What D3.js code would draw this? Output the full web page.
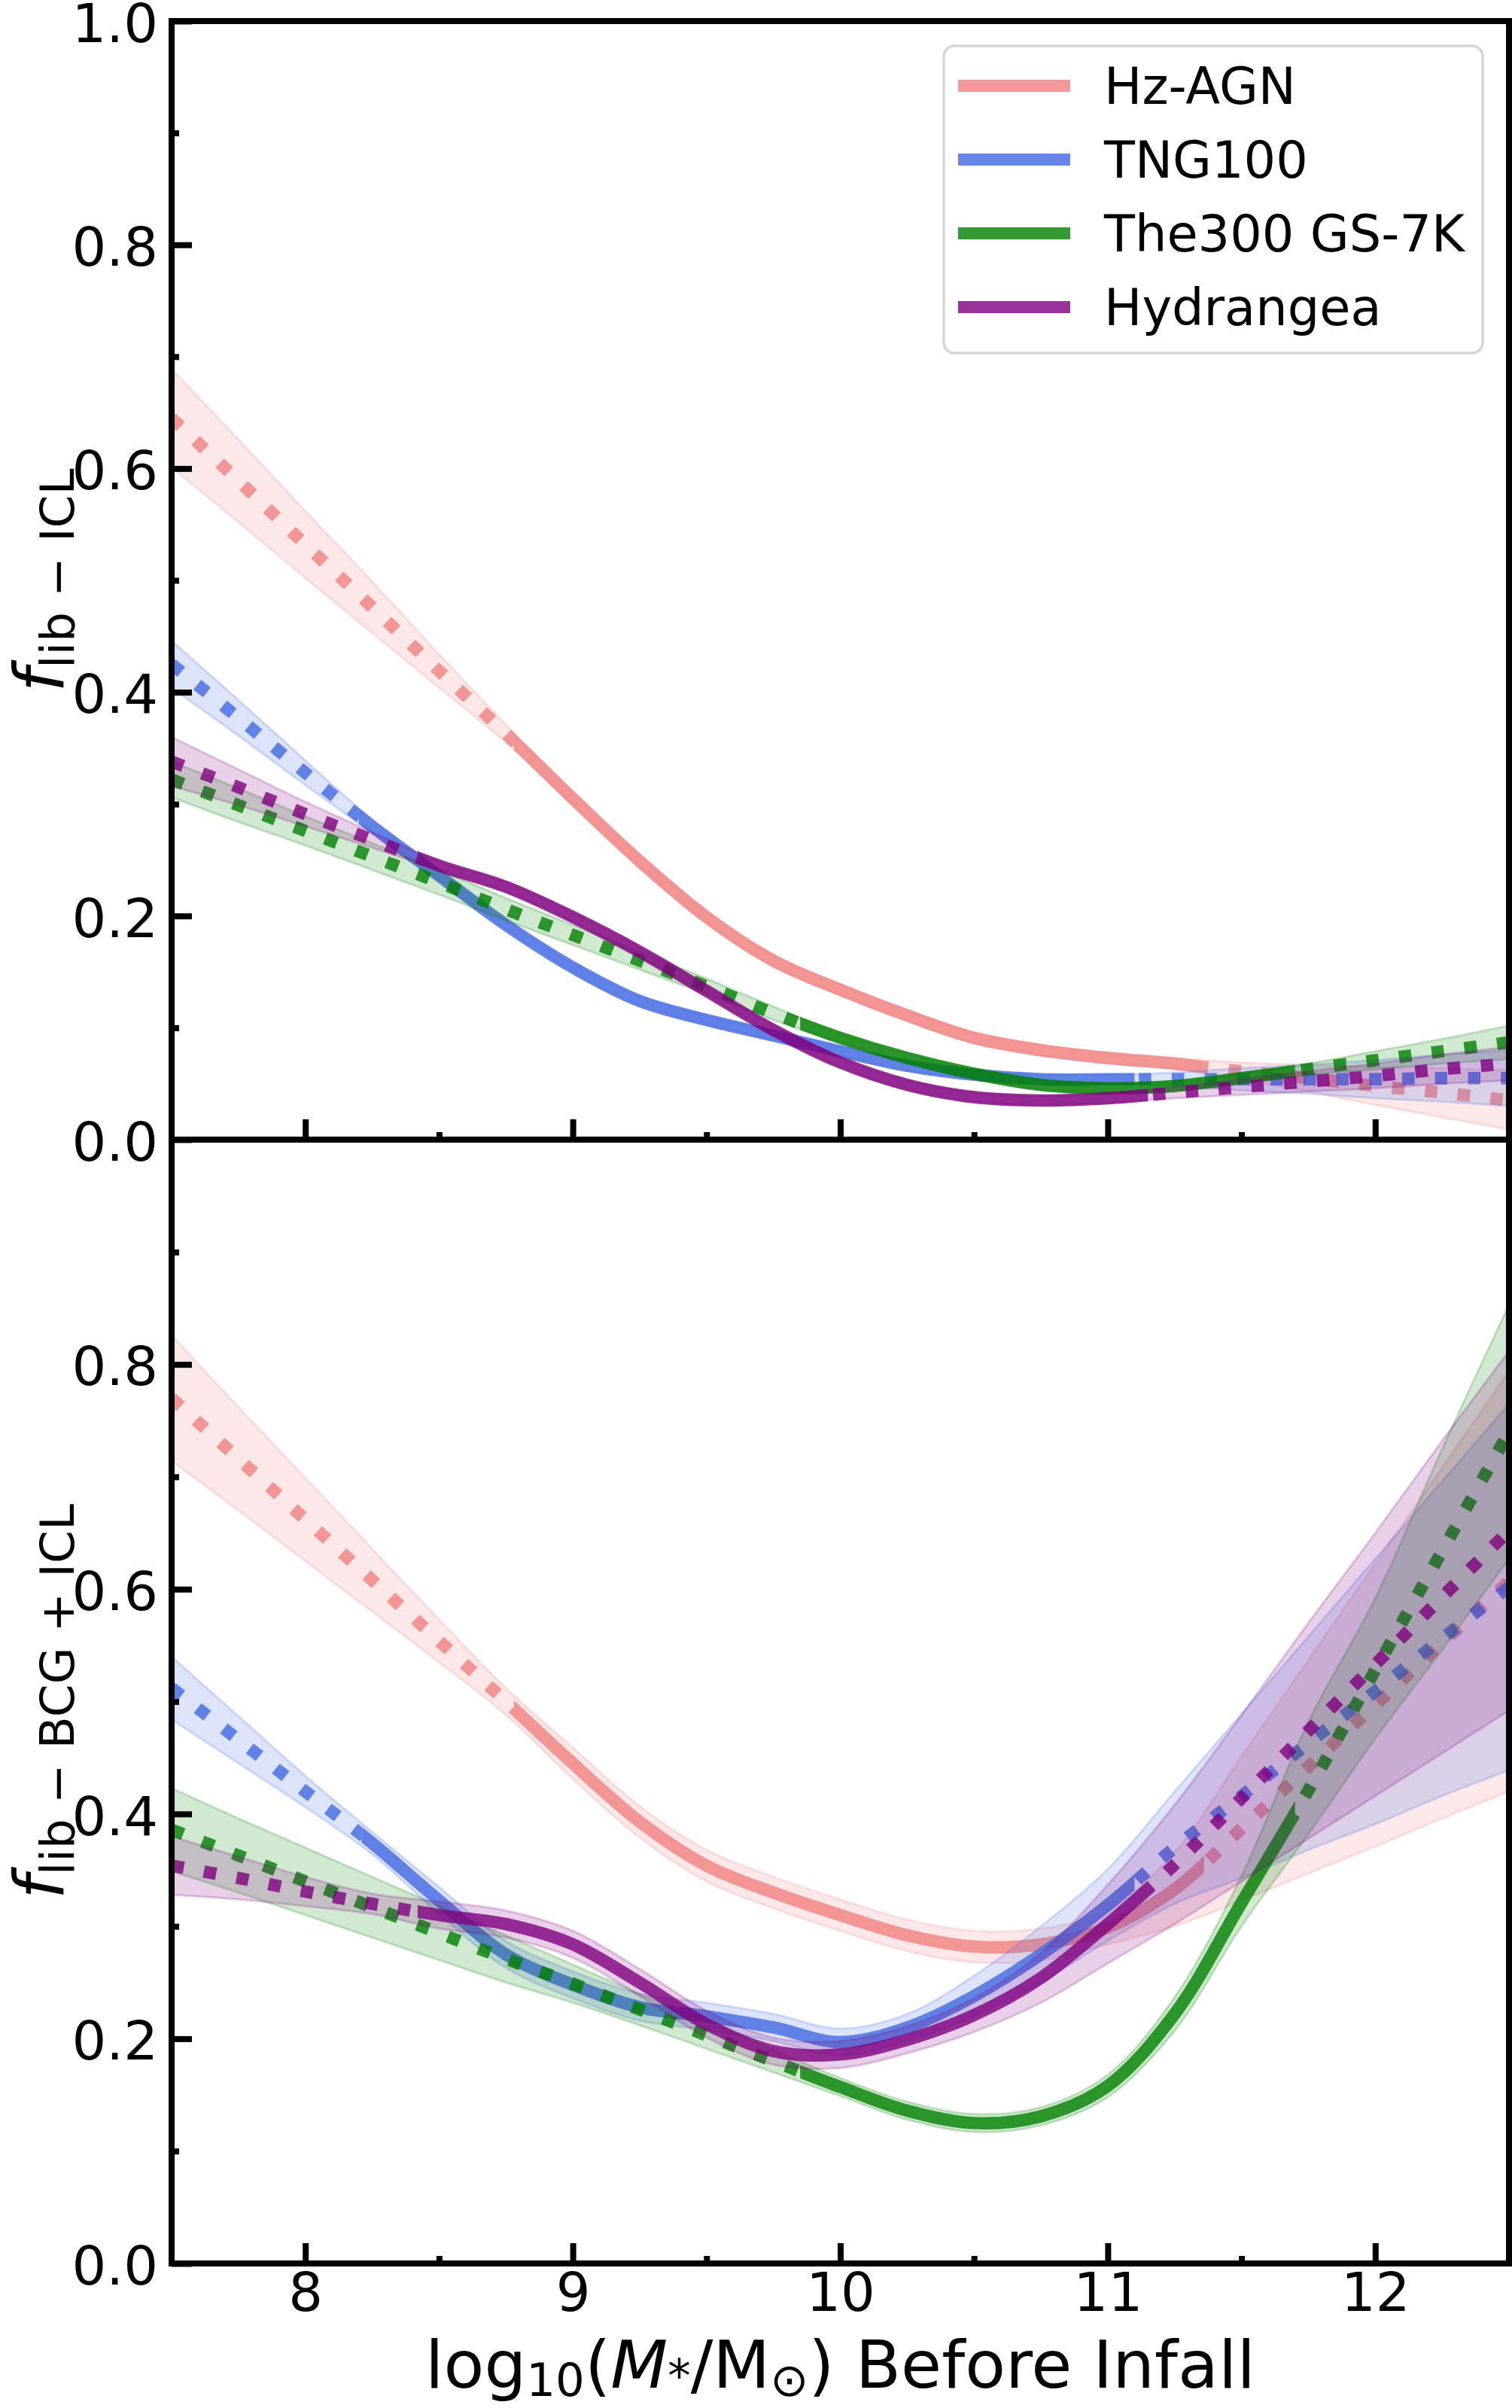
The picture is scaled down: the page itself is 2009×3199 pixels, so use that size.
<!DOCTYPE html>
<html>
<head>
<meta charset="utf-8">
<script src="https://cdn.jsdelivr.net/npm/d3@7"></script>
<style>
  body { margin: 0; background: #fff; }
  svg { display: block; font-family: "DejaVu Sans", sans-serif; }
  .tick text { font-size: 72px; fill: #000; font-family: "DejaVu Sans", sans-serif; }
  .tick line { stroke: #000; stroke-width: 8; }
</style>
</head>
<body>
<div id="chart"></div>
<script>
(function () {

  // shared mass grid, log10(M*/Msun) before infall
  const massGrid = [7.5, 7.75, 8.0, 8.25, 8.5, 8.75, 9.0, 9.25, 9.5, 9.75, 10.0,
    10.25, 10.5, 10.75, 11.0, 11.25, 11.5, 11.75, 12.0, 12.25, 12.5];

  const seriesNames = ["Hz-AGN", "TNG100", "The300 GS-7K", "Hydrangea"];
  const seriesColors = ["lightcoral", "royalblue", "green", "purple"];

  // top panel: f_lib-ICL
  const hzTopY  = [0.645, 0.589, 0.532, 0.476, 0.419, 0.363, 0.305, 0.249, 0.199, 0.160, 0.134, 0.111, 0.091, 0.080, 0.073, 0.068, 0.061, 0.055, 0.048, 0.042, 0.035];
  const hzTopLo = [0.601, 0.552, 0.502, 0.453, 0.404, 0.355, 0.300, 0.244, 0.194, 0.155, 0.129, 0.106, 0.086, 0.075, 0.068, 0.063, 0.053, 0.043, 0.031, 0.020, 0.009];
  const hzTopHi = [0.689, 0.626, 0.562, 0.499, 0.434, 0.371, 0.310, 0.254, 0.204, 0.165, 0.139, 0.116, 0.096, 0.085, 0.078, 0.073, 0.069, 0.067, 0.065, 0.064, 0.062];

  const tngTopY  = [0.425, 0.377, 0.328, 0.280, 0.236, 0.192, 0.154, 0.124, 0.107, 0.093, 0.079, 0.066, 0.058, 0.054, 0.054, 0.054, 0.054, 0.054, 0.054, 0.055, 0.055];
  const tngTopLo = [0.404, 0.361, 0.317, 0.274, 0.232, 0.188, 0.150, 0.120, 0.103, 0.089, 0.075, 0.062, 0.054, 0.050, 0.050, 0.048, 0.044, 0.041, 0.037, 0.034, 0.030];
  const tngTopHi = [0.446, 0.393, 0.339, 0.286, 0.240, 0.196, 0.158, 0.128, 0.111, 0.097, 0.083, 0.070, 0.062, 0.058, 0.058, 0.060, 0.064, 0.067, 0.071, 0.076, 0.080];

  const gsTopY  = [0.322, 0.299, 0.276, 0.253, 0.230, 0.206, 0.183, 0.160, 0.137, 0.113, 0.091, 0.073, 0.059, 0.049, 0.046, 0.048, 0.055, 0.063, 0.071, 0.079, 0.087];
  const gsTopLo = [0.306, 0.284, 0.263, 0.241, 0.219, 0.196, 0.174, 0.152, 0.130, 0.107, 0.087, 0.069, 0.055, 0.045, 0.042, 0.044, 0.051, 0.058, 0.063, 0.068, 0.072];
  const gsTopHi = [0.338, 0.314, 0.289, 0.265, 0.241, 0.216, 0.192, 0.168, 0.144, 0.119, 0.095, 0.077, 0.063, 0.053, 0.050, 0.052, 0.059, 0.068, 0.079, 0.090, 0.102];

  const hydTopY  = [0.338, 0.315, 0.291, 0.268, 0.245, 0.226, 0.199, 0.168, 0.133, 0.098, 0.069, 0.049, 0.038, 0.035, 0.037, 0.042, 0.047, 0.052, 0.057, 0.063, 0.068];
  const hydTopLo = [0.316, 0.299, 0.280, 0.261, 0.241, 0.222, 0.195, 0.164, 0.129, 0.094, 0.065, 0.045, 0.034, 0.031, 0.033, 0.037, 0.040, 0.043, 0.046, 0.050, 0.053];
  const hydTopHi = [0.360, 0.331, 0.302, 0.275, 0.249, 0.230, 0.203, 0.172, 0.137, 0.102, 0.073, 0.053, 0.042, 0.039, 0.041, 0.047, 0.054, 0.061, 0.068, 0.076, 0.083];

  // bottom panel: f_lib-BCG+ICL
  const hzBotY  = [0.770, 0.716, 0.662, 0.608, 0.554, 0.500, 0.445, 0.393, 0.354, 0.330, 0.310, 0.292, 0.282, 0.284, 0.299, 0.333, 0.387, 0.442, 0.497, 0.552, 0.607];
  const hzBotLo = [0.714, 0.670, 0.625, 0.580, 0.535, 0.488, 0.431, 0.379, 0.340, 0.316, 0.296, 0.278, 0.268, 0.270, 0.284, 0.300, 0.323, 0.347, 0.371, 0.396, 0.420];
  const hzBotHi = [0.826, 0.762, 0.699, 0.636, 0.573, 0.512, 0.459, 0.407, 0.368, 0.344, 0.324, 0.306, 0.296, 0.298, 0.314, 0.366, 0.451, 0.537, 0.623, 0.708, 0.794];

  const tngBotY  = [0.512, 0.466, 0.420, 0.374, 0.323, 0.275, 0.248, 0.228, 0.220, 0.210, 0.197, 0.210, 0.238, 0.275, 0.319, 0.370, 0.416, 0.463, 0.509, 0.556, 0.602];
  const tngBotLo = [0.484, 0.445, 0.406, 0.364, 0.311, 0.263, 0.236, 0.216, 0.208, 0.198, 0.185, 0.198, 0.220, 0.250, 0.287, 0.320, 0.343, 0.368, 0.391, 0.416, 0.439];
  const tngBotHi = [0.540, 0.487, 0.434, 0.384, 0.335, 0.287, 0.260, 0.240, 0.232, 0.222, 0.209, 0.222, 0.256, 0.300, 0.351, 0.420, 0.489, 0.558, 0.627, 0.696, 0.765];

  const gsBotY  = [0.386, 0.363, 0.340, 0.317, 0.294, 0.271, 0.249, 0.226, 0.203, 0.180, 0.157, 0.136, 0.125, 0.131, 0.158, 0.222, 0.321, 0.421, 0.528, 0.634, 0.740];
  const gsBotLo = [0.349, 0.330, 0.310, 0.290, 0.270, 0.250, 0.232, 0.212, 0.191, 0.170, 0.149, 0.128, 0.117, 0.123, 0.148, 0.207, 0.300, 0.382, 0.467, 0.546, 0.627];
  const gsBotHi = [0.423, 0.396, 0.370, 0.344, 0.318, 0.292, 0.266, 0.240, 0.215, 0.190, 0.165, 0.144, 0.133, 0.139, 0.168, 0.237, 0.345, 0.482, 0.592, 0.725, 0.853];

  const hydBotY  = [0.354, 0.343, 0.331, 0.320, 0.310, 0.302, 0.284, 0.250, 0.213, 0.189, 0.186, 0.199, 0.221, 0.254, 0.302, 0.355, 0.414, 0.474, 0.533, 0.593, 0.652];
  const hydBotLo = [0.328, 0.324, 0.318, 0.311, 0.298, 0.290, 0.272, 0.238, 0.201, 0.177, 0.174, 0.187, 0.206, 0.232, 0.267, 0.302, 0.340, 0.378, 0.416, 0.454, 0.492];
  const hydBotHi = [0.380, 0.362, 0.344, 0.329, 0.322, 0.314, 0.296, 0.262, 0.225, 0.201, 0.198, 0.211, 0.236, 0.276, 0.337, 0.408, 0.488, 0.570, 0.650, 0.732, 0.812];

  // mass range where each curve is drawn solid (dotted outside)
  const topSolid = [[8.78, 11.36], [8.2, 11.1], [9.85, 11.7], [8.42, 11.15]];
  const botSolid = [[8.78, 11.36], [8.21, 11.1], [9.85, 11.7], [8.42, 11.15]];

  // ticks
  const xMajor = [8, 9, 10, 11, 12];
  const xMinor = [8.5, 9.5, 10.5, 11.5];
  const yMajorTop = [0, 0.2, 0.4, 0.6, 0.8, 1.0];
  const yMajorBot = [0, 0.2, 0.4, 0.6, 0.8];
  const yMinor = [0.1, 0.3, 0.5, 0.7, 0.9];


  // chart settings
  const svg_width = 2009;
  const svg_height = 3199;
  const margin = { left: 228, right: 4 };
  const width = svg_width - margin.left - margin.right;
  const lineWidth = 16.5;

  const x = d3.scaleLinear()
    .domain([7.5, 12.5])
    .range([0, width]);

  const svg = d3.select("#chart").append("svg")
    .attr("width", svg_width)
    .attr("height", svg_height);

  const panels = [
    {
      top: 28, height: 1486, solid: topSolid, yMajor: yMajorTop, xLabels: false,
      label: "lib \u2212 ICL",
      series: [
        { y: hzTopY, lo: hzTopLo, hi: hzTopHi },
        { y: tngTopY, lo: tngTopLo, hi: tngTopHi },
        { y: gsTopY, lo: gsTopLo, hi: gsTopHi },
        { y: hydTopY, lo: hydTopLo, hi: hydTopHi }
      ]
    },
    {
      top: 1514, height: 1493, solid: botSolid, yMajor: yMajorBot, xLabels: true,
      label: "lib \u2212 BCG + ICL",
      series: [
        { y: hzBotY, lo: hzBotLo, hi: hzBotHi },
        { y: tngBotY, lo: tngBotLo, hi: tngBotHi },
        { y: gsBotY, lo: gsBotLo, hi: gsBotHi },
        { y: hydBotY, lo: hydBotLo, hi: hydBotHi }
      ]
    }
  ];

  panels.forEach(function (p, pi) {
    const y = d3.scaleLinear()
      .domain([0, 1])
      .range([p.height, 0]);

    const g = svg.append("g")
      .attr("transform", "translate(" + margin.left + "," + p.top + ")");

    const defs = g.append("defs");
    defs.append("clipPath").attr("id", "plot" + pi)
      .append("rect").attr("width", width).attr("height", p.height);

    const plot = g.append("g").attr("clip-path", "url(#plot" + pi + ")");

    const area = d3.area()
      .x(function (d, i) { return x(massGrid[i]); })
      .y0(function (d) { return y(d[0]); })
      .y1(function (d) { return y(d[1]); })
      .curve(d3.curveCatmullRom.alpha(0.5));

    const line = d3.line()
      .x(function (d, i) { return x(massGrid[i]); })
      .y(function (d) { return y(d); })
      .curve(d3.curveCatmullRom.alpha(0.5));

    p.series.forEach(function (s, si) {
      const color = seriesColors[si];
      const xa = x(p.solid[si][0]), xb = x(p.solid[si][1]);

      // solid / dotted clip regions
      defs.append("clipPath").attr("id", "solid" + pi + si)
        .append("rect").attr("x", xa).attr("width", xb - xa).attr("y", -50).attr("height", p.height + 100);
      const dc = defs.append("clipPath").attr("id", "dot" + pi + si);
      dc.append("rect").attr("x", -50).attr("width", xa + 50).attr("y", -50).attr("height", p.height + 100);
      dc.append("rect").attr("x", xb).attr("width", width - xb + 50).attr("y", -50).attr("height", p.height + 100);

      // uncertainty band
      plot.append("path")
        .attr("d", area(s.lo.map(function (v, i) { return [v, s.hi[i]]; })))
        .attr("fill", color)
        .attr("fill-opacity", 0.18)
        .attr("stroke", color)
        .attr("stroke-opacity", 0.2)
        .attr("stroke-width", 3);

      // extrapolated part
      plot.append("path")
        .attr("d", line(s.y))
        .attr("clip-path", "url(#dot" + pi + si + ")")
        .attr("fill", "none")
        .attr("stroke", color)
        .attr("stroke-opacity", 0.8)
        .attr("stroke-width", lineWidth)
        .attr("stroke-dasharray", lineWidth + "," + (lineWidth * 1.65));

      // measured part
      plot.append("path")
        .attr("d", line(s.y))
        .attr("clip-path", "url(#solid" + pi + si + ")")
        .attr("fill", "none")
        .attr("stroke", color)
        .attr("stroke-opacity", 0.8)
        .attr("stroke-width", lineWidth);
    });

    // y axis, ticks inward
    g.append("g")
      .call(d3.axisLeft(y).tickValues(p.yMajor).tickSize(-27).tickPadding(18).tickFormat(d3.format(".1f")))
      .call(function (a) { a.select(".domain").remove(); })
      .call(function (a) { a.selectAll("text").attr("dy", "0.38em"); });
    g.append("g")
      .call(d3.axisLeft(y).tickValues(yMinor).tickSize(-10).tickFormat(""))
      .call(function (a) { a.select(".domain").remove(); });

    // x axis
    g.append("g")
      .attr("transform", "translate(0," + p.height + ")")
      .call(d3.axisBottom(x).tickValues(xMajor).tickSize(-27).tickPadding(12)
        .tickFormat(p.xLabels ? d3.format("d") : ""))
      .call(function (a) { a.select(".domain").remove(); });
    g.append("g")
      .attr("transform", "translate(0," + p.height + ")")
      .call(d3.axisBottom(x).tickValues(xMinor).tickSize(-10).tickFormat(""))
      .call(function (a) { a.select(".domain").remove(); });

    // spines
    g.append("rect")
      .attr("width", width)
      .attr("height", p.height)
      .attr("fill", "none")
      .attr("stroke", "#000")
      .attr("stroke-width", 8);

    // y label
    const yl = svg.append("text")
      .attr("transform", "translate(84," + (p.top + p.height / 2) + ") rotate(-90)")
      .attr("text-anchor", "middle")
      .style("font-size", "90px");
    yl.append("tspan").style("font-style", "italic").text("f");
    yl.append("tspan").attr("dy", 14).style("font-size", "63px").text(p.label);
  });

  // x label
  const xl = svg.append("text")
    .attr("x", margin.left + width / 2)
    .attr("y", 3172)
    .attr("text-anchor", "middle")
    .style("font-size", "88px");
  xl.append("tspan").text("log");
  xl.append("tspan").attr("dy", 11).style("font-size", "61px").text("10");
  xl.append("tspan").attr("dy", -11).text("(");
  xl.append("tspan").style("font-style", "italic").text("M");
  xl.append("tspan").attr("dy", 5).style("font-size", "61px").style("font-style", "italic").text("*");
  xl.append("tspan").attr("dy", -5).text("/M");
  xl.append("tspan").attr("dy", 11).style("font-size", "61px").text("\u2299");
  xl.append("tspan").attr("dy", -11).text(") Before Infall");

  // legend
  const legend = svg.append("g")
    .attr("transform", "translate(1254,61)");
  legend.append("rect")
    .attr("width", 716)
    .attr("height", 408)
    .attr("rx", 14)
    .attr("fill", "#fff")
    .attr("fill-opacity", 0.8)
    .attr("stroke", "#d6d6d6")
    .attr("stroke-width", 3.5);
  seriesNames.forEach(function (name, i) {
    const cy = 53 + i * 98;
    legend.append("line")
      .attr("x1", 19).attr("x2", 168)
      .attr("y1", cy).attr("y2", cy)
      .attr("stroke", seriesColors[i])
      .attr("stroke-opacity", 0.8)
      .attr("stroke-width", 16);
    legend.append("text")
      .attr("x", 213)
      .attr("y", cy)
      .attr("dy", "0.36em")
      .style("font-size", "67px")
      .text(name);
  });

})();
</script>
</body>
</html>
